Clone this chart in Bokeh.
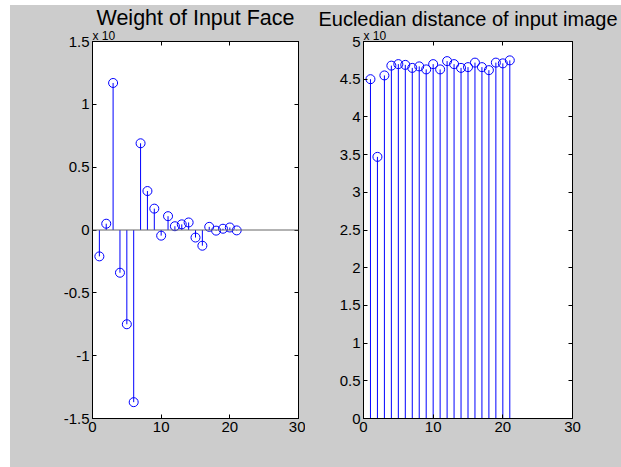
from bokeh.plotting import figure
from bokeh.layouts import row
from bokeh.models import Range1d, FixedTicker, LinearAxis, Span, Title
from bokeh.embed import file_html
from bokeh.resources import INLINE

# ---- data ----
idx = list(range(1, 22))
weights = [-0.21, 0.05, 1.17, -0.34, -0.75, -1.37, 0.69, 0.31, 0.17, -0.045,
           0.11, 0.03, 0.045, 0.06, -0.06, -0.125, 0.025, -0.005, 0.01, 0.02, -0.003]
distances = [4.50, 3.47, 4.55, 4.68, 4.70, 4.69, 4.65, 4.67, 4.63, 4.70, 4.63,
             4.74, 4.70, 4.65, 4.66, 4.72, 4.66, 4.62, 4.72, 4.71, 4.75]

x_ticks = [0, 10, 20, 30]
x_tick_labels = ["0", "10", "20", "30"]
left_ticks = [-1.5, -1, -0.5, 0, 0.5, 1, 1.5]
left_tick_labels = ["-1.5", "-1", "-0.5", "0", "0.5", "1", "1.5"]
right_ticks = [0, 0.5, 1, 1.5, 2, 2.5, 3, 3.5, 4, 4.5, 5]
right_tick_labels = ["0", "0.5", "1", "1.5", "2", "2.5", "3", "3.5", "4", "4.5", "5"]

left_title = "Weight of Input Face"
right_title = "Eucledian distance of input image"
exp_text = "x 10"

GRAY = "#cccccc"
BLUE = "#0000ff"
FONT = "Liberation Sans"


def style_axis(ax, ticks, labels, show_labels=True):
    ax.ticker = FixedTicker(ticks=ticks)
    ax.axis_line_color = "black"
    ax.axis_line_width = 1
    ax.major_tick_line_color = "black"
    ax.major_tick_in = 4
    ax.major_tick_out = 0
    ax.minor_tick_line_color = None
    ax.major_label_text_font = FONT
    if show_labels:
        ax.major_label_overrides = {t: l for t, l in zip(ticks, labels)}
        ax.major_label_text_color = "black"
        ax.major_label_text_font_size = "15px"
        ax.major_label_standoff = 3
    else:
        ax.major_label_text_color = None
        ax.major_label_text_font_size = "1px"
        ax.major_label_standoff = 0


def make_panel(vals, ylo, yhi, yticks, ylabels, title, title_size, width, bl, br, baseline):
    p = figure(width=width, height=462, output_backend="svg", toolbar_location=None,
               x_range=Range1d(0, 30), y_range=Range1d(ylo, yhi),
               min_border_left=bl, min_border_right=br,
               min_border_top=36, min_border_bottom=49)
    p.border_fill_color = GRAY
    p.background_fill_color = "white"
    p.outline_line_color = "black"
    p.outline_line_width = 1
    p.grid.visible = False
    p.title = None

    style_axis(p.xaxis[0], x_ticks, x_tick_labels)
    style_axis(p.yaxis[0], yticks, ylabels)
    top = LinearAxis()
    right = LinearAxis()
    style_axis(top, x_ticks, x_tick_labels, show_labels=False)
    style_axis(right, yticks, ylabels, show_labels=False)
    p.add_layout(top, "above")
    p.add_layout(right, "right")

    p.add_layout(Title(text=exp_text, align="left", text_font=FONT, text_font_size="12px",
                       text_font_style="normal", text_color="black", standoff=-2,
                       offset=0), "above")
    p.add_layout(Title(text=title, align="center", text_font=FONT, text_font_size=title_size,
                       text_font_style="normal", text_color="black", standoff=-4), "above")

    if baseline:
        p.add_layout(Span(location=0, dimension="width", line_color="#666666", line_width=1))

    p.segment(x0=idx, y0=[0] * len(idx), x1=idx, y1=vals, line_color=BLUE, line_width=1)
    p.scatter(x=idx, y=vals, marker="circle", size=9, line_color=BLUE,
              fill_color=None, line_width=1)
    return p


p1 = make_panel(weights, -1.5, 1.5, left_ticks, left_tick_labels, left_title, "21.5px",
                295, 82, 7, True)
p2 = make_panel(distances, 0, 5, right_ticks, right_tick_labels, right_title, "20px",
                316, 58, 49, False)

layout = row(p1, p2, styles={"margin-left": "10px", "margin-top": "5px",
                             "background-color": GRAY})
open("out.html", "w").write(file_html(layout, INLINE))
